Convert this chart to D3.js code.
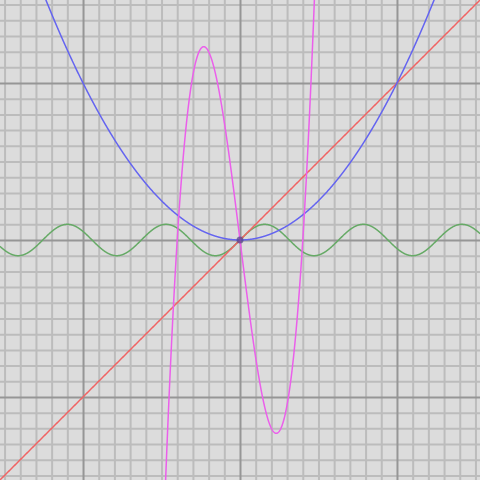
<!DOCTYPE html>
<html>
<head>
<meta charset="utf-8">
<script src="https://cdn.jsdelivr.net/npm/d3@7"></script>
<style>
  html, body { margin: 0; padding: 0; background: #dcdcdc; }
  svg { display: block; }
</style>
</head>
<body>
<svg id="chart" width="480" height="480"></svg>
<script>
// ---- data ----
const xDomain = [-1.529, 1.529];
const yDomain = [-1.529, 1.529];
const majorTicks = [-1, 0, 1];
const minorTicks = [-1.5, -1.4, -1.3, -1.2, -1.1, -1.0, -0.9, -0.8, -0.7, -0.6, -0.5, -0.4, -0.3, -0.2, -0.1,
                    0, 0.1, 0.2, 0.3, 0.4, 0.5, 0.6, 0.7, 0.8, 0.9, 1.0, 1.1, 1.2, 1.3, 1.4, 1.5];
// polynomial coefficients, lowest power first
const parabolaCoeffs = [0, 0, 1];
const lineCoeffs = [0, 1];
const cubicCoeffs = [0, -8, 0, 50];
// sine wave: [amplitude, angular frequency]
const sineParams = [0.1, 10];
const markedPoints = [[0, 0]];

const W = 480, H = 480;
const svg = d3.select("#chart");
const x = d3.scaleLinear().domain(xDomain).range([0, W]);
const y = d3.scaleLinear().domain(yDomain).range([H, 0]);

svg.append("rect").attr("width", W).attr("height", H).attr("fill", "#dcdcdc");

function grid(ticks, color, width) {
  const gx = svg.append("g").attr("transform", `translate(0,${H})`)
    .call(d3.axisBottom(x).tickValues(ticks).tickSize(-H).tickFormat(""));
  const gy = svg.append("g")
    .call(d3.axisLeft(y).tickValues(ticks).tickSize(-W).tickFormat(""));
  [gx, gy].forEach(g => {
    g.select(".domain").remove();
    g.selectAll(".tick line").attr("stroke", color).attr("stroke-width", width);
  });
}
grid(minorTicks.filter(v => !majorTicks.some(m => Math.abs(m - v) < 1e-9)), "#bcbcbc", 2);
grid(majorTicks, "#969696", 2);

const poly = c => t => c.reduce((s, a, i) => s + a * Math.pow(t, i), 0);
const sine = p => t => p[0] * Math.sin(p[1] * t);
const xs = d3.range(0, 2001).map(i => xDomain[0] + (xDomain[1] - xDomain[0]) * i / 2000);

const line = d3.line().x(d => x(d[0])).y(d => y(d[1]));
const clipY = v => Math.max(-20, Math.min(20, v));

const curves = [
  { f: sine(sineParams), color: "rgb(102,170,102)" },
  { f: poly(lineCoeffs), color: "rgb(240,100,100)" },
  { f: poly(parabolaCoeffs), color: "rgb(100,100,240)" },
  { f: poly(cubicCoeffs), color: "rgb(235,95,235)" }
];
curves.forEach(c => {
  svg.append("path")
    .datum(xs.map(t => [t, clipY(c.f(t))]))
    .attr("d", line)
    .attr("fill", "none")
    .attr("stroke", c.color)
    .attr("stroke-width", 1.5);
});

svg.selectAll("circle.pt").data(markedPoints).enter().append("circle")
  .attr("class", "pt")
  .attr("cx", d => x(d[0])).attr("cy", d => y(d[1]))
  .attr("r", 3.5)
  .attr("fill", "rgba(90,70,140,0.75)");
</script>
</body>
</html>
